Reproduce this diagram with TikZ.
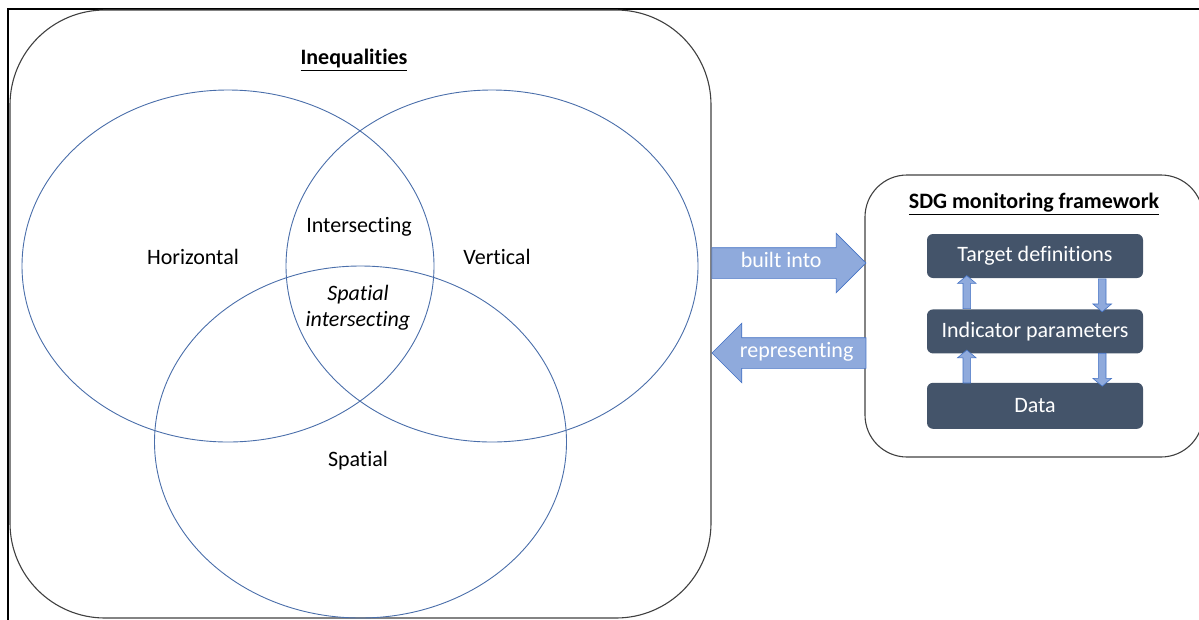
\documentclass[tikz,border=0pt]{standalone}
\usepackage{fontspec}
\setmainfont{Carlito}[Ligatures=NoCommon]
\usetikzlibrary{shapes.geometric,shapes.arrows,positioning,calc}
\definecolor{vennblue}{RGB}{74,110,170}
\definecolor{arrowfill}{RGB}{143,170,220}
\definecolor{arrowedge}{RGB}{68,114,196}
\definecolor{slate}{RGB}{68,84,106}
\newcommand{\lblfont}{\fontsize{22}{26}\selectfont}

\tikzset{
  venn/.style={ellipse, draw=vennblue, line width=0.9pt, minimum width=412pt, minimum height=352pt},
  lbl/.style={font=\lblfont},
  heading/.style={font=\lblfont\bfseries},
  panel/.style={draw=black!75, line width=1.1pt},
  layer/.style={fill=slate, rounded corners=6pt, minimum width=216pt, minimum height=44pt, text=white, font=\lblfont},
  flow/.style={single arrow, fill=arrowfill, draw=arrowedge, line width=0.6pt, single arrow head extend=14.5pt,
    single arrow tip angle=90, text=white, font=\lblfont, inner xsep=0pt, inner ysep=6.5pt,
    text height=13pt, text depth=4pt, minimum height=154pt},
  updown/.style={single arrow, fill=arrowfill, draw=arrowedge, line width=0.6pt, inner sep=3.5pt,
    single arrow head extend=5.5pt, single arrow tip angle=100, minimum height=33pt, minimum width=0pt}
}

\begin{document}
\begin{tikzpicture}[x=1pt,y=-1pt]
    \useasboundingbox (0,0) rectangle (1199,619);
    \clip (0,0) rectangle (1199,619);
    \draw[line width=2pt] (8,640) -- (8,9) -- (1220,9);

    % inequalities panel
    \node[panel, rounded corners=95pt, minimum width=701pt, minimum height=608pt] (ineq) at (360.5,314) {};
    \node[heading] (ineqtitle) at (354,60) {\underline{Inequalities}};
    \node[venn] (hor) at (228,266) {};
    \node[venn] (ver) at (492,266) {};
    \node[venn] (spa) at (360.5,442) {};
    \node[lbl] (horlbl) at (193,257) {Horizontal};
    \node[lbl] (verlbl) at (497,257) {Vertical};
    \node[lbl] (intlbl) at (359,227) {Intersecting};
    \node[lbl, align=center, font=\lblfont\itshape] (spintlbl) at (358,308) {Spatial\\intersecting};
    \node[lbl] (spalbl) at (358,461) {Spatial};

    % SDG panel
    \node[panel, rounded corners=42pt, minimum width=338pt, minimum height=282pt] (sdg) at (1034,316) {};
    \node[heading] (sdgtitle) at (1034,204) {\underline{SDG monitoring framework}};
    \node[layer] (tgt) at (1035,256) {Target definitions};
    \node[layer, below=31pt of tgt] (ind) {Indicator parameters};
    \node[layer, below=29pt of ind, minimum height=46pt] (dat) {Data};
    \node[updown, shape border rotate=90] (up1) at ($(tgt.south west)!0.5!(ind.north west)+(40,0)$) {};
    \node[updown, shape border rotate=270] (dn1) at ($(tgt.south east)!0.5!(ind.north east)+(-41,0)$) {};
    \node[updown, shape border rotate=90] (up2) at ($(ind.south west)!0.5!(dat.north west)+(40,0)$) {};
    \node[updown, shape border rotate=270] (dn2) at ($(ind.south east)!0.5!(dat.north east)+(-41,0)$) {};

    % links between panels
    \node[flow, anchor=tail] (built) at (ineq.east |- 0,263) {built into};
    \node[flow, shape border rotate=180, anchor=tip] (repr) at (ineq.east |- 0,353) {representing};
\end{tikzpicture}
\end{document}
